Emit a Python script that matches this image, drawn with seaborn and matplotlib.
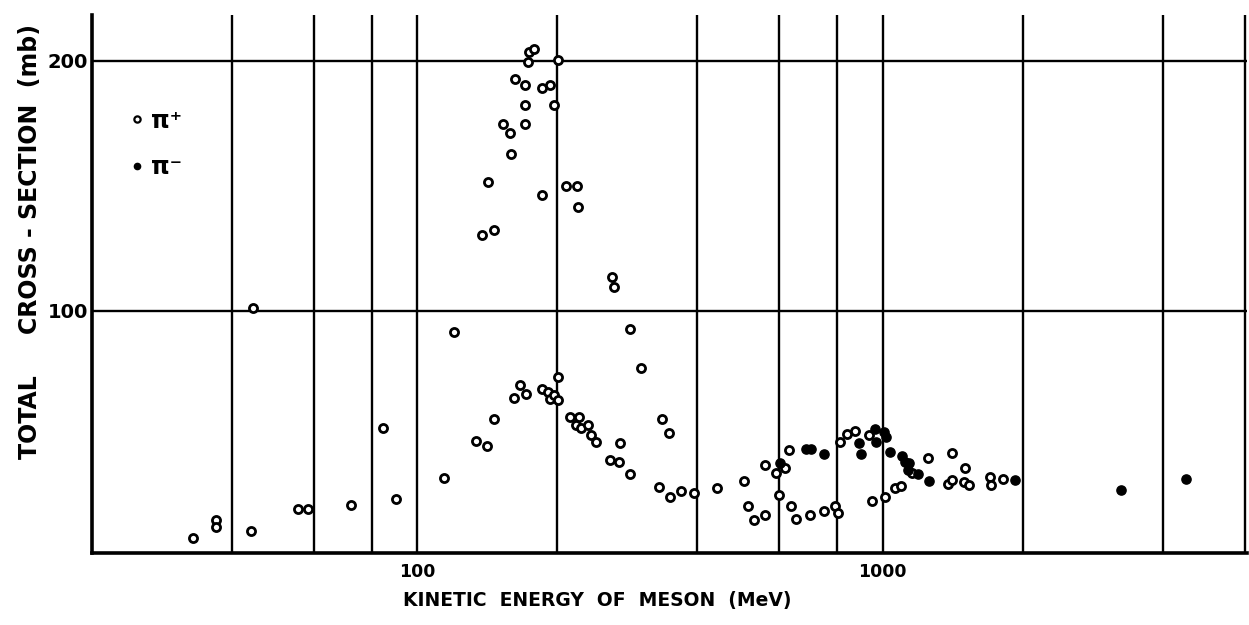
import matplotlib
matplotlib.use("Agg")
import matplotlib.pyplot as plt
from matplotlib.lines import Line2D
from matplotlib.ticker import FixedLocator, NullLocator
import pandas as pd
import seaborn as sns

# ── Data ─────────────────────────────────────────────────────────────────────
# open circles (pi+)
pip_energy = [174, 178, 173, 201, 162, 170, 185, 193, 170, 197, 153, 170, 158,
              159, 142, 185, 209, 220, 222, 146, 138, 262, 265, 120, 286, 302,
              114, 134, 141, 146, 161, 166, 171, 185, 191, 193, 197, 201, 201,
              213, 223, 219, 225, 233, 236, 242, 260, 271, 273, 286, 336, 347,
              331, 349, 368, 394, 440, 504, 514, 530, 558, 558, 589, 598, 618,
              629, 636, 650, 697, 749, 790, 804, 808, 840, 874, 935, 950, 1011,
              1063, 1097, 1158, 1254, 1382, 1413, 1413, 1494, 1537, 1506, 1705,
              1707, 1818, 44.4, 84.4, 90.0, 72.1, 55.4, 58.2, 43.9, 37.0, 37.0,
              33.0]
pip_sigma = [203.7, 204.8, 199.7, 200.4, 192.8, 190.3, 189.3, 190.4, 182.5,
             182.4, 174.9, 174.7, 171.1, 162.9, 151.5, 146.5, 150.0, 150.1,
             141.7, 132.4, 130.3, 113.6, 109.5, 91.6, 92.9, 77.1, 33.1, 48.0,
             46.0, 56.7, 65.3, 70.3, 66.9, 68.7, 67.7, 64.7, 66.4, 64.4, 73.5,
             57.5, 57.7, 54.4, 53.3, 54.4, 50.4, 47.5, 40.4, 39.6, 47.1, 34.9,
             56.9, 51.1, 29.6, 25.5, 28.1, 27.3, 29.1, 32.0, 22.1, 16.5, 18.5,
             38.5, 35.1, 26.4, 37.3, 44.4, 22.0, 16.9, 18.3, 20.1, 22.0, 19.1,
             47.7, 50.7, 52.0, 50.3, 24.1, 25.6, 29.3, 30.1, 35.1, 41.2, 30.8,
             32.4, 43.1, 31.6, 30.4, 37.3, 33.5, 30.4, 32.8, 101.1, 53.3, 24.8,
             22.4, 20.7, 20.9, 12.1, 16.4, 13.7, 9.3]

# filled dots (pi-)
pim_energy = [603, 686, 703, 747, 892, 900, 963, 966, 1007, 1016, 1039, 1103,
              1115, 1139, 1134, 1191, 1258, 1922, 3254, 4484]
pim_sigma = [39.1, 44.8, 44.8, 42.7, 47.3, 42.8, 52.7, 47.5, 51.7, 49.7, 43.5,
             42.0, 39.7, 39.1, 36.4, 34.8, 31.9, 32.3, 28.4, 32.8]

x_grid = [40, 60, 80, 100, 200, 400, 600, 800, 1000, 2000, 4000, 6000]
y_grid = [100, 200]
y_minor = [20, 40, 60, 80, 120, 140, 160, 180]


def main():
    sns.set_style("white")
    plt.rcParams["font.family"] = ["DejaVu Sans"]
    plt.rcParams["font.weight"] = "bold"
    for key in ["text.color", "axes.labelcolor", "xtick.color", "ytick.color"]:
        plt.rcParams[key] = "black"

    pip = pd.DataFrame({"energy": pip_energy, "sigma": pip_sigma})
    pim = pd.DataFrame({"energy": pim_energy, "sigma": pim_sigma})

    fig = plt.figure(figsize=(12.49, 6.25), dpi=100)
    ax = fig.add_axes([0.0737, 0.1152, 0.9247, 0.861])

    # grid drawn as heavy black rulings, like the printed chart
    for gx in x_grid:
        ax.axvline(gx, color="black", lw=1.7, zorder=1)
    for gy in y_grid:
        ax.axhline(gy, color="black", lw=1.7, zorder=1)

    sns.scatterplot(data=pip, x="energy", y="sigma", ax=ax, marker="o", s=34,
                    facecolor="white", edgecolor="black", linewidth=2.0,
                    legend=False, zorder=3)
    sns.scatterplot(data=pim, x="energy", y="sigma", ax=ax, marker="o", s=44,
                    facecolor="black", edgecolor="black", linewidth=1.0,
                    legend=False, zorder=3)

    ax.set_xscale("log")
    ax.set_xlim(20, 6070)
    ax.set_ylim(3.2, 218.4)

    ax.xaxis.set_major_locator(FixedLocator([100, 1000]))
    ax.xaxis.set_minor_locator(NullLocator())
    ax.set_xticklabels(["100", "1000"])
    ax.tick_params(axis="x", which="both", length=0, pad=7, labelsize=12.5)

    ax.yaxis.set_major_locator(FixedLocator(y_grid))
    ax.yaxis.set_minor_locator(FixedLocator(y_minor))
    ax.tick_params(axis="y", which="major", length=0, pad=3, labelsize=14)
    ax.tick_params(axis="y", which="minor", direction="in", length=4, width=2,
                   color="black")

    for side in ["top", "right"]:
        ax.spines[side].set_visible(False)
    for side in ["left", "bottom"]:
        ax.spines[side].set_linewidth(2.6)
        ax.spines[side].set_color("black")

    ax.set_xlabel("KINETIC  ENERGY  OF  MESON  (MeV)", fontsize=13.5,
                  fontweight="bold")
    ax.xaxis.set_label_coords(0.437, -0.07)
    ax.set_ylabel("TOTAL     CROSS - SECTION  (mb)", fontsize=17,
                  fontweight="bold")
    ax.yaxis.set_label_coords(-0.043, 0.578)

    handles = [
        Line2D([], [], ls="", marker="o", ms=4.5, mfc="white", mec="black",
               mew=1.6),
        Line2D([], [], ls="", marker="o", ms=4.5, mfc="black", mec="black"),
    ]
    ax.legend(handles, ["π⁺", "π⁻"], loc="upper left",
              bbox_to_anchor=(0.033, 0.826), frameon=False, borderpad=0,
              borderaxespad=0, handlelength=0.6, handletextpad=0.3,
              labelspacing=0.95, prop={"size": 17, "weight": "bold"})

    fig.savefig("out.png", dpi=100)
    plt.close(fig)


if __name__ == "__main__":
    main()
